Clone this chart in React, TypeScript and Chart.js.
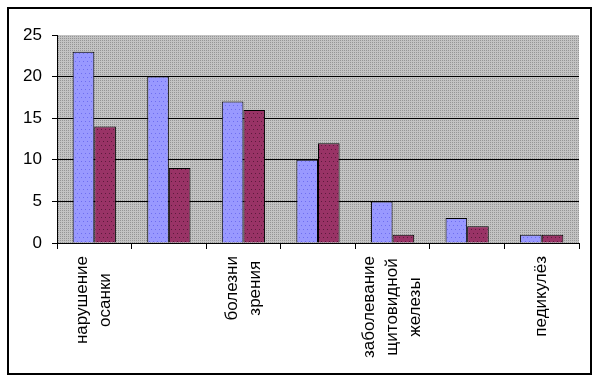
import React, { useEffect, useRef } from "react";
import { Chart, registerables } from "chart.js";

Chart.register(...registerables);

const categories: string[][] = [
  ["нарушение", "осанки"],
  [""],
  ["болезни", "зрения"],
  [""],
  ["заболевание", "щитовидной", "железы"],
  [""],
  ["педикулёз"],
];
const series1Name = "Ряд1";
const series2Name = "Ряд2";
const series1Values = [23, 20, 17, 10, 5, 3, 1];
const series2Values = [14, 9, 16, 12, 1, 2, 1];
const yTicks = [0, 5, 10, 15, 20, 25];

const FONT = 'Arial, "Liberation Sans", sans-serif';

function makePattern(
  base: string,
  dot: string,
  size: number,
  dots: [number, number][]
): CanvasPattern | string {
  const c = document.createElement("canvas");
  c.width = size;
  c.height = size;
  const g = c.getContext("2d");
  if (!g) return base;
  g.fillStyle = base;
  g.fillRect(0, 0, size, size);
  g.fillStyle = dot;
  dots.forEach(([x, y]) => g.fillRect(x, y, 1, 1));
  const p = g.createPattern(c, "repeat");
  return p || base;
}

export default function App() {
  const ref = useRef<HTMLCanvasElement | null>(null);

  useEffect(() => {
    if (!ref.current) return;
    const bluePat = makePattern("#9999ff", "#6e6ef0", 8, [
      [1, 1],
      [5, 1],
      [3, 5],
      [7, 5],
    ]);
    const maroonPat = makePattern("#993366", "#5c1a3c", 8, [
      [1, 1],
      [5, 1],
      [3, 5],
      [7, 5],
    ]);
    const grayPat = makePattern("#c3c3c3", "#959595", 2, [[0, 0]]);

    const framePlugin = {
      id: "frame",
      beforeDraw(chart: any) {
        const { ctx, chartArea } = chart;
        ctx.save();
        ctx.fillStyle = "#ffffff";
        ctx.fillRect(0, 0, chart.width, chart.height);
        ctx.strokeStyle = "#000000";
        ctx.lineWidth = 2;
        ctx.strokeRect(8, 8, 583, 366);
        ctx.fillStyle = grayPat as any;
        ctx.fillRect(
          chartArea.left,
          chartArea.top,
          chartArea.right - chartArea.left,
          chartArea.bottom - chartArea.top
        );
        ctx.restore();
      },
      afterDraw(chart: any) {
        const { ctx } = chart;
        const xs = chart.scales.x;
        const lh = 23;
        ctx.save();
        ctx.font = `17px ${FONT}`;
        ctx.fillStyle = "#000000";
        ctx.textAlign = "center";
        ctx.textBaseline = "middle";
        categories.forEach((lines, i) => {
          const px = xs.getPixelForValue(i);
          const maxW = Math.max(...lines.map((l) => ctx.measureText(l).width));
          const cy = xs.top + 13 + maxW / 2;
          const n = lines.length;
          lines.forEach((line, j) => {
            if (!line) return;
            const x = px + (j - (n - 1) / 2) * lh;
            ctx.save();
            ctx.translate(x, cy);
            ctx.rotate(-Math.PI / 2);
            ctx.fillText(line, 0, 0);
            ctx.restore();
          });
        });
        ctx.restore();
      },
    };

    const chart = new Chart(ref.current, {
      type: "bar",
      data: {
        labels: categories.map((c) => c.join(" ")),
        datasets: [
          {
            label: series1Name,
            data: series1Values,
            backgroundColor: bluePat as any,
            borderColor: "#000000",
            borderWidth: 1,
            categoryPercentage: 0.58,
            barPercentage: 1.0,
          },
          {
            label: series2Name,
            data: series2Values,
            backgroundColor: maroonPat as any,
            borderColor: "#000000",
            borderWidth: 1,
            categoryPercentage: 0.58,
            barPercentage: 1.0,
          },
        ],
      },
      options: {
        responsive: false,
        animation: false,
        layout: { padding: { left: 0, top: 35, right: 21, bottom: 0 } },
        plugins: {
          legend: { display: false },
          tooltip: { enabled: false },
        },
        scales: {
          x: {
            offset: true,
            grid: {
              offset: true,
              drawOnChartArea: false,
              drawTicks: true,
              tickLength: 6,
              tickColor: "#000000",
              color: "#000000",
            },
            border: { color: "#000000", width: 1 },
            ticks: { display: false },
            afterFit: (scale: any) => {
              scale.height = 139;
            },
          },
          y: {
            min: 0,
            max: 25,
            afterBuildTicks: (scale: any) => {
              scale.ticks = yTicks.map((v) => ({ value: v }));
            },
            grid: {
              color: (ctx: any) =>
                ctx.tick && ctx.tick.value === 25 ? "rgba(0,0,0,0)" : "#000000",
              tickColor: "#000000",
              tickLength: 5,
              lineWidth: 1,
            },
            border: { color: "#000000", width: 1 },
            ticks: {
              color: "#000000",
              font: { family: FONT, size: 17 },
              padding: 10,
            },
            afterFit: (scale: any) => {
              scale.width = 57;
            },
          },
        },
      },
      plugins: [framePlugin],
    });
    return () => chart.destroy();
  }, []);

  return (
    <div style={{ position: "absolute", left: 0, top: 0, width: 600, height: 382 }}>
      <canvas ref={ref} width={600} height={382} style={{ width: 600, height: 382, display: "block" }} />
    </div>
  );
}
